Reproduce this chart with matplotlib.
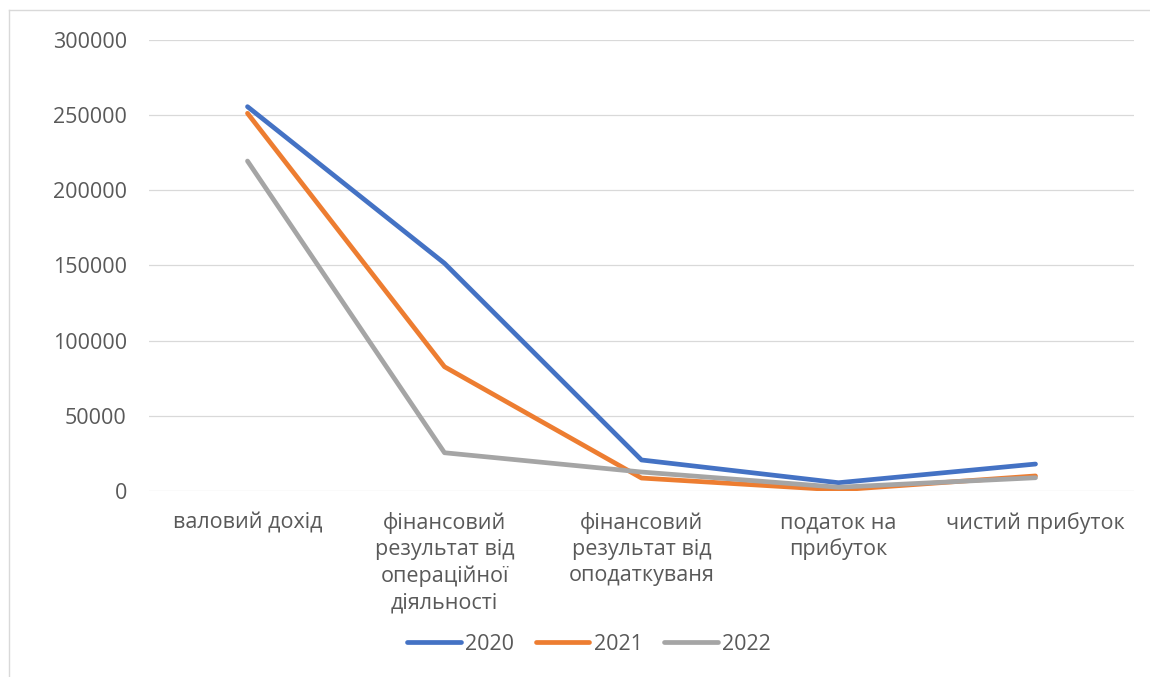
import matplotlib
matplotlib.use("Agg")
import matplotlib.pyplot as plt
from matplotlib.lines import Line2D

categories = ["валовий дохід",
              "фінансовий\nрезультат від\nопераційної\nдіяльності",
              "фінансовий\nрезультат від\nоподаткуваня",
              "податок на\nприбуток",
              "чистий прибуток"]
series_names = ["2020", "2021", "2022"]
values_2020 = [255400, 151400, 20800, 5700, 18100]
values_2021 = [251000, 82700, 8800, 900, 10200]
values_2022 = [219300, 25600, 12800, 2700, 9000]
y_ticks = [0, 50000, 100000, 150000, 200000, 250000, 300000]

colors = ["#4472C4", "#ED7D31", "#A5A5A5"]
text_color = "#595959"
grid_color = "#D9D9D9"

plt.rcParams['font.family'] = ['Open Sans', 'DejaVu Sans']
fs = 15.5

fig = plt.figure(figsize=(11.5, 6.77), dpi=100)
ax = fig.add_axes([149/1150, 185.7/677, 985/1150, 451.8/677])

x = list(range(len(categories)))
for name, vals, c in zip(series_names, [values_2020, values_2021, values_2022], colors):
    ax.plot(x, vals, color=c, lw=3.4, solid_capstyle='round', solid_joinstyle='round', label=name)

ax.set_xlim(-0.5, len(categories) - 0.5)
ax.set_ylim(0, 300000)
ax.set_yticks(y_ticks)
ax.set_yticklabels([str(v) for v in y_ticks])
ax.set_xticks(x)
ax.set_xticklabels(categories, linespacing=1.32)
ax.tick_params(axis='both', length=0, labelsize=fs, colors=text_color)
ax.tick_params(axis='y', pad=16)
ax.tick_params(axis='x', pad=15)
for lab in ax.get_xticklabels():
    lab.set_verticalalignment('top')
    lab.set_horizontalalignment('center')
ax.grid(axis='y', color=grid_color, lw=0.9)
ax.set_axisbelow(True)
for s in ax.spines.values():
    s.set_visible(False)

handles = [Line2D([0], [0], color=c, lw=3.4, solid_capstyle='round') for c in colors]
fig.legend(handles, series_names, loc='center', bbox_to_anchor=(589/1150, 33/677), ncol=3,
           frameon=False, fontsize=fs, labelcolor=text_color, handlelength=2.5,
           handletextpad=0.2, columnspacing=1.0)

# chart frame (top and left edges visible)
fig.add_artist(Line2D([9/1150, 9/1150], [0, 1 - 10/677], transform=fig.transFigure, color=grid_color, lw=1.0))
fig.add_artist(Line2D([9/1150, 1], [1 - 10/677, 1 - 10/677], transform=fig.transFigure, color=grid_color, lw=1.0))

fig.savefig("out.png", dpi=100, facecolor="white")
